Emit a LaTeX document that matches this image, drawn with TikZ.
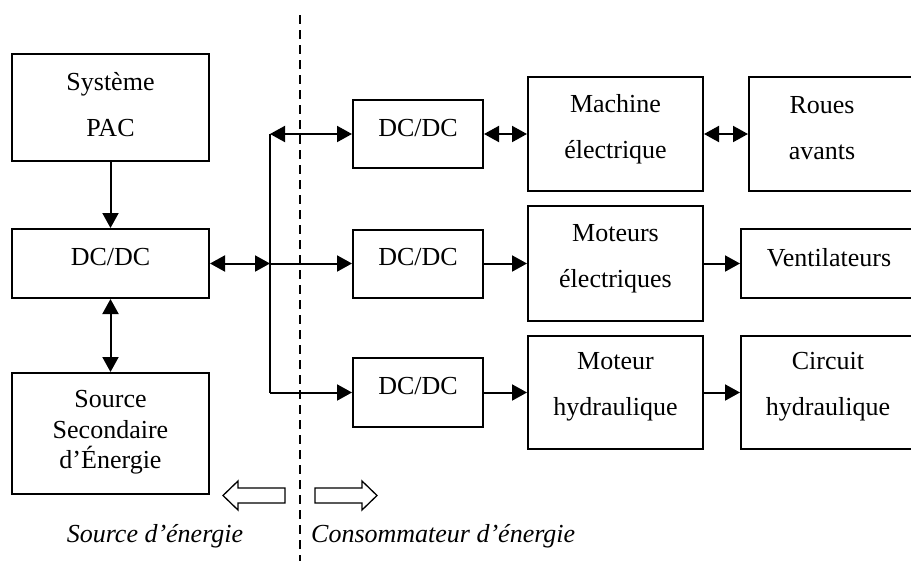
\documentclass[tikz,border=0pt]{standalone}
\usepackage{fontspec}
\setmainfont{Liberation Serif}
\usetikzlibrary{arrows.meta,calc}
\begin{document}
\begin{tikzpicture}[x=1pt,y=-1pt,
  blk/.style={draw,line width=2pt,inner sep=0pt},
  txt/.style={align=center,inner sep=0pt,font=\fontsize{26}{46}\selectfont},
  txtS/.style={align=center,inner sep=0pt,font=\fontsize{26}{30.5}\selectfont},
  conn/.style={line width=2pt},
  tip/.tip={Triangle[length=15pt,width=16pt]},
  sarr/.style={conn,-tip},
  darr/.style={conn,tip-tip},
  hollow/.style={draw,line width=1.3pt,fill=white},
  sep/.style={line width=1.3pt,dash pattern=on 9pt off 6pt},
  lab/.style={anchor=base,inner sep=0pt,font=\fontsize{26}{30}\selectfont\itshape}]
\useasboundingbox (0,0) rectangle (911,560);
\clip (0,0) rectangle (911,560);
% boxes
\node[blk,minimum width=197pt,minimum height=107pt] (pac) at (110.5,107.5) {};
\node[blk,minimum width=197pt,minimum height=69pt] (dcL) at (110.5,263.5) {};
\node[blk,minimum width=197pt,minimum height=121pt] (src) at (110.5,433.5) {};
\node[blk,minimum width=130pt,minimum height=68pt] (dc1) at (418,134) {};
\node[blk,minimum width=130pt,minimum height=68pt] (dc2) at (418,263.5) {};
\node[blk,minimum width=130pt,minimum height=69pt] (dc3) at (418,392.5) {};
\node[blk,minimum width=175pt,minimum height=114pt] (mach) at (615.5,134) {};
\node[blk,minimum width=175pt,minimum height=115pt] (mot) at (615.5,263.5) {};
\node[blk,minimum width=175pt,minimum height=113pt] (moth) at (615.5,392.5) {};
\node[blk,minimum width=171pt,minimum height=114pt] (roues) at (834.5,134) {};
\node[blk,minimum width=179pt,minimum height=69pt] (vent) at (830.5,263.5) {};
\node[blk,minimum width=179pt,minimum height=113pt] (circ) at (830.5,392.5) {};
% texts
\node[txt] (pacT) at ($(pac.center)+(0,-3)$) {Système\\PAC};
\node[txt] (dcLT) at ($(dcL.center)+(0,-6)$) {DC/DC};
\node[txtS] (srcT) at ($(src.center)+(0,-1)$) {Source\\Secondaire\\d’Énergie};
\node[txt] (dc1T) at ($(dc1.center)+(0,-6)$) {DC/DC};
\node[txt] (dc2T) at ($(dc2.center)+(0,-6)$) {DC/DC};
\node[txt] (dc3T) at ($(dc3.center)+(0,-6)$) {DC/DC};
\node[txt] (machT) at ($(mach.center)+(0,-5)$) {Machine\\électrique};
\node[txt] (motT) at ($(mot.center)+(0,-5)$) {Moteurs\\électriques};
\node[txt] (mothT) at ($(moth.center)+(0,-6)$) {Moteur\\hydraulique};
\node[txt] (rouesT) at ($(roues.center)+(-12.5,-6)$) {Roues\\avants};
\node[txt] (ventT) at ($(vent.center)+(-1.5,-6)$) {Ventilateurs};
\node[txt] (circT) at ($(circ.center)+(-2.5,-6)$) {Circuit\\hydraulique};
% bus
\coordinate (busT) at (270,134);
\coordinate (busM) at (270,263.5);
\coordinate (busB) at (270,392.5);
\draw[conn] (busT) -- (busB);
% connectors
\draw[sarr] (pac.south) -- (dcL.north);
\draw[darr] (dcL.south) -- (src.north);
\draw[darr] (dcL.east) -- (busM);
\draw[darr] (busT) -- (dc1.west);
\draw[sarr] (busM) -- (dc2.west);
\draw[sarr] (busB) -- (dc3.west);
\draw[darr] (dc1.east) -- (mach.west);
\draw[darr] (mach.east) -- (roues.west);
\draw[sarr] (dc2.east) -- (mot.west);
\draw[sarr] (mot.east) -- (vent.west);
\draw[sarr] (dc3.east) -- (moth.west);
\draw[sarr] (moth.east) -- (circ.west);
% separator
\coordinate (sepT) at (300,15);
\coordinate (sepB) at (300,562);
\draw[sep] (sepT) -- (sepB);
% hollow arrows
\draw[hollow] (315,488) -- (362,488) -- (362,481) -- (377,495.5) -- (362,510) -- (362,503) -- (315,503) -- cycle;
\draw[hollow] (285,488) -- (238,488) -- (238,481) -- (223,495.5) -- (238,510) -- (238,503) -- (285,503) -- cycle;
% labels
\node[lab] (labS) at (155,542) {Source d’énergie};
\node[lab,anchor=base west] (labC) at (311,542) {Consommateur d’énergie};
\end{tikzpicture}
\end{document}
